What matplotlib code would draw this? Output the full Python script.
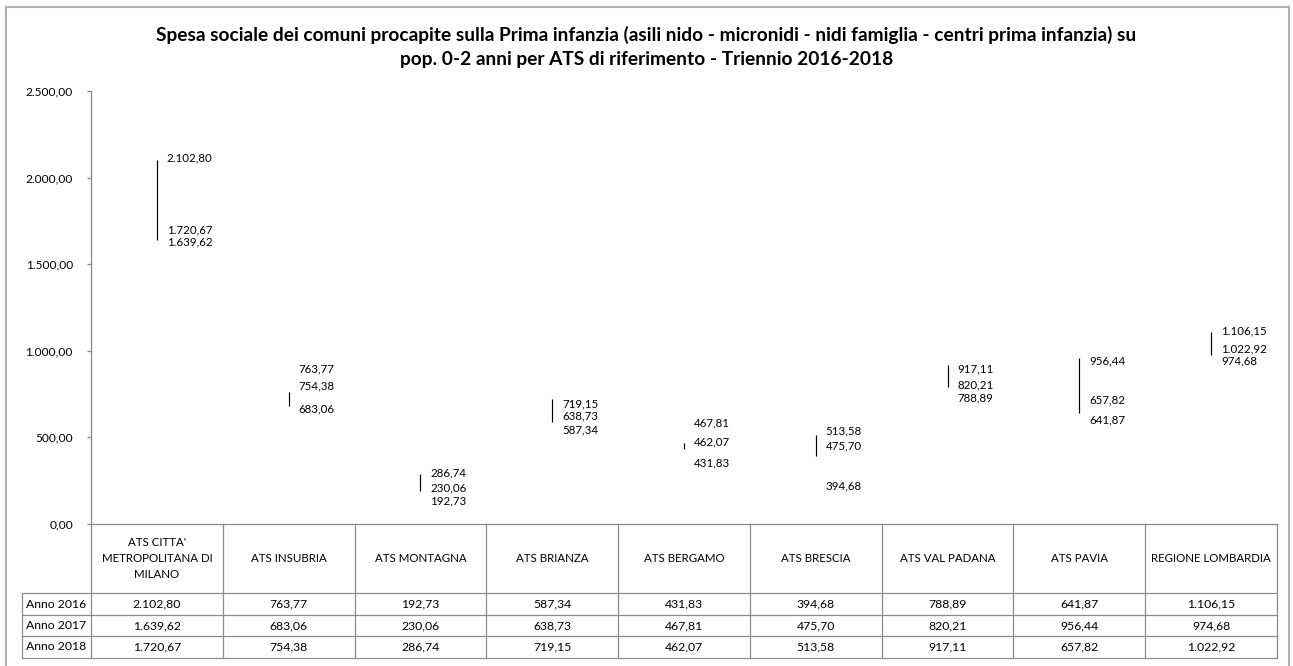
import matplotlib
matplotlib.use("Agg")
import matplotlib.pyplot as plt
from matplotlib.lines import Line2D
from matplotlib.patches import Rectangle

plt.rcParams['font.family'] = ['Lato', 'DejaVu Sans']

categories = ["ATS CITTA'\nMETROPOLITANA DI\nMILANO", "ATS INSUBRIA", "ATS MONTAGNA",
              "ATS BRIANZA", "ATS BERGAMO", "ATS BRESCIA", "ATS VAL PADANA",
              "ATS PAVIA", "REGIONE LOMBARDIA"]
years = ["Anno 2016", "Anno 2017", "Anno 2018"]
anno_2016 = [2102.80, 763.77, 192.73, 587.34, 431.83, 394.68, 788.89, 641.87, 1106.15]
anno_2017 = [1639.62, 683.06, 230.06, 638.73, 467.81, 475.70, 820.21, 956.44, 974.68]
anno_2018 = [1720.67, 754.38, 286.74, 719.15, 462.07, 513.58, 917.11, 657.82, 1022.92]
y_ticks = [0, 500, 1000, 1500, 2000, 2500]

# vertical label nudges (pixels, up positive) per series, to mimic Excel label placement
nudge_2016 = [2, 23, -10, -8, -14, -30, -11, -7, 1]
nudge_2017 = [-2, -3, -4, -3, 20, -4, -3, -3, -6]
nudge_2018 = [-4, 7, 1, -4, 2, 4, -4, 10, -2]

title = ("Spesa sociale dei comuni procapite sulla Prima infanzia (asili nido - micronidi - nidi famiglia - centri prima infanzia) su\n"
         "pop. 0-2 anni per ATS di riferimento - Triennio 2016-2018")


def it_fmt(v):
    s = f"{v:,.2f}"
    return s.replace(",", "X").replace(".", ",").replace("X", ".")


W, H = 1293, 666
fig = plt.figure(figsize=(W / 100, H / 100), dpi=100)


def fx(px):
    return px / W


def fy(py):
    return 1 - py / H


# outer chart border
fig.add_artist(Rectangle((fx(6), fy(700)), fx(1289) - fx(6), fy(7) - fy(700),
                         transform=fig.transFigure, fill=False, edgecolor='#b0b0b0', lw=1.5))

ax_l, ax_r, ax_t, ax_b = 91, 1277, 91, 524
ax = fig.add_axes([fx(ax_l), fy(ax_b), fx(ax_r) - fx(ax_l), fy(ax_t) - fy(ax_b)])
n = len(categories)
xs = list(range(n))
ax.set_xlim(-0.5, n - 0.5)
ax.set_ylim(0, 2500)
axis_col = '#868686'
for s in ['top', 'right', 'bottom']:
    ax.spines[s].set_visible(False)
ax.spines['left'].set_color(axis_col)
ax.spines['left'].set_linewidth(0.9)
ax.set_xticks([])
ax.set_yticks(y_ticks)
ax.set_yticklabels([it_fmt(v) for v in y_ticks], fontsize=8.6)
ax.tick_params(axis='y', direction='out', length=3, width=0.9, color=axis_col, pad=10)

lows = [min(a, b, c) for a, b, c in zip(anno_2016, anno_2017, anno_2018)]
highs = [max(a, b, c) for a, b, c in zip(anno_2016, anno_2017, anno_2018)]
ax.vlines(xs, lows, highs, color='black', lw=0.85)

for series, nudges in [(anno_2016, nudge_2016), (anno_2017, nudge_2017), (anno_2018, nudge_2018)]:
    for x, v, d in zip(xs, series, nudges):
        ax.annotate(it_fmt(v), xy=(x, v), xytext=(10, d), textcoords='offset pixels',
                    ha='left', va='center', fontsize=8.3)

fig.text(0.5, fy(47), title, ha='center', va='center', fontsize=13.8, fontweight='bold',
         linespacing=1.45)

# data table below the plot
tb_bottom = 658
tax = fig.add_axes([fx(ax_l), fy(tb_bottom), fx(ax_r) - fx(ax_l), fy(ax_b) - fy(tb_bottom)])
tax.set_xlim(-0.5, n - 0.5)
tax.set_ylim(tb_bottom - ax_b, 0)
tax.axis('off')
grid_col = '#8c8c8c'
row_edges = [0, 69, 91, 112, 134]
colw_px = (ax_r - ax_l) / n
lab_left = -0.5 - (ax_l - 22) / colw_px
for k in range(n + 1):
    tax.plot([-0.5 + k, -0.5 + k], [0, row_edges[-1]], color=grid_col, lw=0.9, clip_on=False)
tax.plot([-0.5, n - 0.5], [0, 0], color=grid_col, lw=0.9, clip_on=False)
for r in row_edges[1:]:
    tax.plot([lab_left, n - 0.5], [r, r], color=grid_col, lw=0.9, clip_on=False)
tax.plot([lab_left, lab_left], [row_edges[1], row_edges[-1]], color=grid_col, lw=0.9, clip_on=False)

for x, c in zip(xs, categories):
    tax.text(x, (row_edges[0] + row_edges[1]) / 2, c, ha='center', va='center',
             fontsize=8.3, linespacing=1.6)
for ri, (yr, series) in enumerate(zip(years, [anno_2016, anno_2017, anno_2018])):
    yc = (row_edges[ri + 1] + row_edges[ri + 2]) / 2
    tax.text((lab_left - 0.5) / 2, yc, yr, ha='center', va='center', fontsize=8.8, clip_on=False)
    for x, v in zip(xs, series):
        tax.text(x, yc, it_fmt(v), ha='center', va='center', fontsize=8.8)

fig.savefig("out.png", dpi=100)
